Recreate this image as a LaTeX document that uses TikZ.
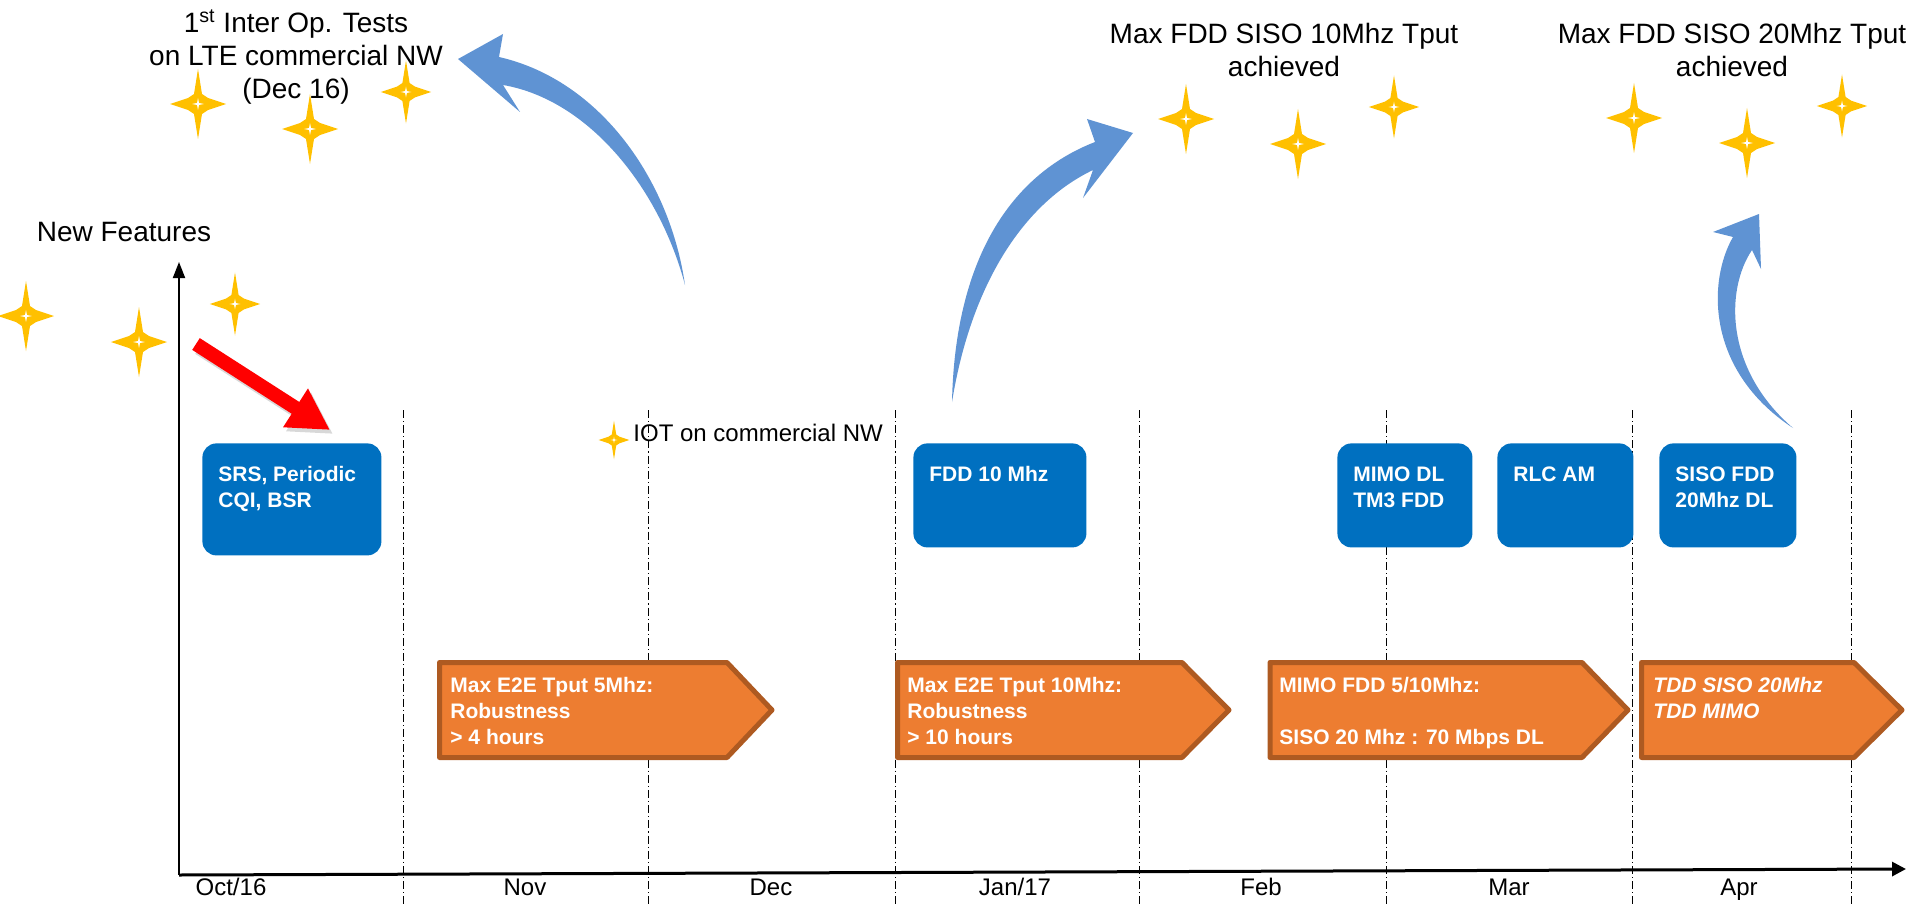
\documentclass[tikz,border=0pt]{standalone}
\usepackage{fontspec}
\setmainfont{Liberation Sans}
\usetikzlibrary{positioning,arrows.meta,calc}
\definecolor{azul}{HTML}{0070C0}
\definecolor{naranja}{HTML}{ED7D31}
\definecolor{borde}{HTML}{AE5A21}
\definecolor{celeste}{HTML}{5F93D3}
\definecolor{oro}{HTML}{FFC000}
\definecolor{rojo}{HTML}{FF0000}
\tikzset{
  estrella/.pic={
    \fill[oro] (0,-35) -- (4,-10) -- (10,-6) -- (28,0) -- (10,6) -- (4,10) -- (0,35)
      -- (-4,10) -- (-10,6) -- (-28,0) -- (-10,-6) -- (-4,-10) -- cycle;
    \fill[white] (0,-6) -- (1,-1) -- (6,0) -- (1,1) -- (0,6) -- (-1,1) -- (-6,0) -- (-1,-1) -- cycle;
  },
  caja/.style={fill=azul, rounded corners=7pt, inner sep=0pt, anchor=north west},
  txtcaja/.style={text=white, font=\bfseries\fontsize{10.5}{13}\selectfont, align=left, inner sep=0pt},
  hito/.style={fill=naranja, draw=borde, line width=2.5pt, line join=round},
  grande/.style={font=\fontsize{14}{16.5}\selectfont, align=center, inner sep=0pt},
  mes/.style={font=\fontsize{12}{14}\selectfont, anchor=base, inner sep=0pt},
  guia/.style={line width=0.5pt, dash pattern=on 4pt off 1.5pt on 0.6pt off 1.5pt},
}

\begin{document}
\begin{tikzpicture}[font=\fontsize{12}{14}\selectfont, x=0.5pt, y=-0.5pt]
    \useasboundingbox (0,0) rectangle (1911,904);
    \foreach \x in {403,648,895,1139,1386,1632,1851} {
      \draw[guia] (\x,410) -- (\x,904);
    }
    \coordinate (origen) at (179,875);
    \coordinate (ytope) at (179,262);
    \coordinate (xfin) at (1906,869);
    \draw[line width=0.9pt, -{Triangle[width=6pt,length=8pt]}] (origen) -- (ytope);
    \draw[line width=1.5pt, -{Triangle[width=7pt,length=7pt]}] (origen) -- (xfin);
    \foreach \t/\x in {{Oct/16}/231, Nov/525, Dec/771, {Jan/17}/1015, Feb/1261, Mar/1509, Apr/1739} {
      \node[mes] at (\x,895) {\t};
    }

    \foreach \nom/\x/\w/\h/\txt in {srs/202/89.5/56/{SRS, Periodic\\CQI, BSR},
        fdd/913/86.5/52/{FDD 10 Mhz}, mimo/1337/67.5/52/{MIMO DL\\TM3 FDD},
        rlc/1497/68/52/{RLC AM}, siso/1659/68.5/52/{SISO FDD\\20Mhz DL}} {
      \node[caja, minimum width=\w pt, minimum height=\h pt] (\nom) at (\x,443) {};
      \node[txtcaja, below right=11.5pt and 8pt of \nom.north west] (t\nom) {\txt};
    }

    \foreach \l/\s/\p in {439.5/727/772, 897.5/1182/1229, 1270/1582/1628, 1641.5/1854/1902} {
      \draw[hito] (\l,662.5) -- (\s,662.5) -- (\p,710) -- (\s,757.5) -- (\l,757.5) -- cycle;
    }
    \node[txtcaja, anchor=north west] (e2e5) at (450,677) {Max E2E Tput 5Mhz:\\Robustness\\> 4 hours};
    \node[txtcaja, anchor=north west] (e2e10) at (907,677) {Max E2E Tput 10Mhz:\\Robustness\\> 10 hours};
    \node[txtcaja, anchor=north west] (mimofdd) at (1279,677) {MIMO FDD 5/10Mhz:\\[13pt]SISO 20 Mhz : 70 Mbps DL};
    \node[txtcaja, font=\bfseries\itshape\fontsize{10.5}{13}\selectfont, anchor=north west] (tdd) at (1653,677) {TDD SISO 20Mhz\\TDD MIMO};

    \fill[celeste] (685,285) .. controls (670,180) and (600,80) .. (499,57) -- (503,34) -- (458,59)
      -- (520,112) -- (503,85) .. controls (590,100) and (660,190) .. (685,285) -- cycle;
    \fill[celeste] (952,402) .. controls (955,260) and (1010,175) .. (1095,142) -- (1087,119) -- (1133,133)
      -- (1083,198) -- (1093,170) .. controls (1020,205) and (970,290) .. (952,402) -- cycle;
    \fill[celeste] (1793,428) .. controls (1705,370) and (1708,280) .. (1733,237) -- (1713,232) -- (1759,214)
      -- (1761,269) -- (1752,250) .. controls (1725,290) and (1725,370) .. (1793,428) -- cycle;

    \coordinate (rojo-a) at (196,344);
    \coordinate (rojo-b) at (330,430);
    \draw[black!30, opacity=0.5, line width=7pt, -{Triangle[width=21.5pt,length=20.5pt]},
      transform canvas={shift={(1.5pt,-2pt)}}] (rojo-a) -- (rojo-b);
    \draw[rojo, line width=7pt, -{Triangle[width=21.5pt,length=20.5pt]}] (rojo-a) -- (rojo-b);

    \foreach \x/\y/\s in {198/104/1, 310/129/1, 406/92/0.9, 26/316/1, 139/342/1, 235/304/0.9,
        1186/119/1, 1298/144/1, 1394/107/0.9, 1634/118/1, 1747/143/1, 1842/106/0.9, 614/440/0.55} {
      \pic[scale=\s] at (\x,\y) {estrella};
    }

    \node[grande, anchor=north] (interop) at (296,9) {1\textsuperscript{st} Inter Op. Tests\\on LTE commercial NW\\(Dec 16)};
    \node[grande, anchor=north] (siso10) at (1284,23) {Max FDD SISO 10Mhz Tput\\achieved};
    \node[grande, anchor=north] (siso20) at (1732,23) {Max FDD SISO 20Mhz Tput\\achieved};
    \node[grande, anchor=base] (nuevas) at (124,241) {New Features};
    \node[anchor=base west, inner sep=0pt] (iot) at (633,441) {IOT on commercial NW};
  \end{tikzpicture}
\end{document}
